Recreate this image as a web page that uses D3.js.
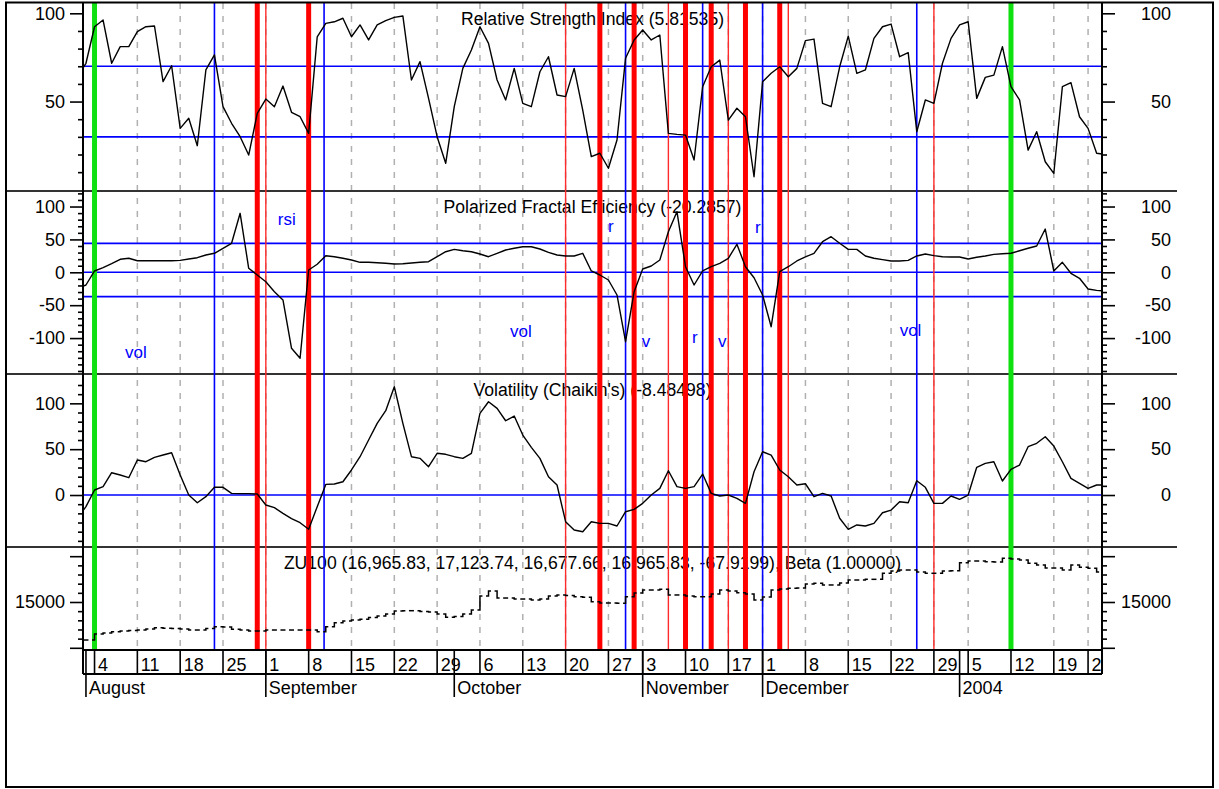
<!DOCTYPE html>
<html>
<head>
<meta charset="utf-8">
<script src="https://cdn.jsdelivr.net/npm/d3@7"></script>
<style>
  html, body { margin: 0; padding: 0; background: #fff; }
  svg { display: block; font-family: "Liberation Sans", Arial, sans-serif; }
</style>
</head>
<body>
<svg id="chart" width="1219" height="789"></svg>
<script>
// ---- Trading-day series (index 0 = Jul 31 2003, one value per trading day) ----
const rsiValues = [
  64.1, 71.7, 92.4, 96.2, 71.7, 81.1, 81.1, 89.6, 92.4, 92.8,
  61.3, 70.3, 34.8, 40.5, 25.0, 67.9, 76.4, 47.1, 37.7, 30.1,
  19.7, 43.3, 51.4, 47.1, 58.8, 43.9, 41.4, 32.0, 86.7, 94.3,
  95.2, 97.2, 86.7, 93.4, 84.9, 93.4, 95.8, 97.7, 98.5, 62.2,
  72.6, 51.8, 30.1, 15.0, 47.1, 68.8, 79.2, 92.4, 83.0, 62.2,
  50.9, 68.8, 49.0, 47.1, 66.9, 75.4, 53.7, 52.8, 68.8, 45.2,
  18.8, 20.7, 12.2, 28.2, 74.5, 84.9, 90.5, 84.9, 87.7, 32.0,
  31.4, 31.0, 16.9, 58.4, 69.7, 73.5, 39.5, 46.2, 41.4, 7.4,
  61.2, 66.0, 69.7, 64.1, 68.8, 84.5, 85.4, 49.0, 47.1, 69.7,
  87.1, 66.0, 67.9, 85.8, 92.4, 93.9, 75.4, 77.7, 32.9, 50.9,
  49.0, 71.7, 85.8, 93.4, 95.2, 51.8, 63.7, 65.0, 81.1, 58.4,
  50.9, 22.5, 32.9, 15.9, 9.3, 58.4, 60.7, 41.4, 34.8, 20.7, 20.1
];

const pfeValues = [
  -24.3, -19.3, 2.0, 7.0, 13.1, 19.8, 21.3, 17.6, 17.6, 17.6,
  17.6, 17.6, 18.2, 20.2, 22.2, 26.3, 28.9, 36.5, 44.1, 89.7,
  6.1, -4.1, -14.3, -29.5, -42.1, -115.5, -130.7, 3.5, 12.2, 25.2,
  23.7, 21.3, 18.7, 15.2, 15.2, 14.6, 13.7, 12.6, 13.1, 14.1,
  15.2, 16.1, 23.7, 31.3, 34.9, 32.8, 31.3, 27.8, 23.7, 28.9,
  33.9, 36.5, 38.9, 38.9, 35.4, 30.4, 26.3, 24.8, 24.8, 28.9,
  2.0, -4.1, -11.7, -34.5, -105.5, -29.5, 5.0, 9.6, 18.7, 61.7,
  92.1, 8.5, -19.3, 2.0, 8.5, 13.7, 21.3, 42.6, 8.5, -8.2,
  -34.5, -82.7, 0.9, 8.5, 17.2, 23.3, 28.9, 46.5, 54.1, 44.1,
  34.9, 34.9, 24.8, 21.3, 19.2, 17.2, 17.2, 18.2, 24.8, 27.8,
  25.3, 23.7, 23.3, 23.3, 20.2, 22.8, 24.8, 27.3, 28.3, 28.9,
  32.8, 36.5, 40.0, 65.8, 2.0, 15.2, -1.5, -9.1, -25.4, -27.4, -28.4
];

const volValues = [
  -25.4, -12.7, 5.5, 9.1, 24.3, 21.8, 18.9, 38.2, 36.3, 41.1,
  43.6, 46.1, 21.8, 0.0, -8.4, -1.8, 8.4, 8.4, 1.8, 1.5,
  1.5, 1.1, -10.9, -13.8, -20.0, -25.8, -30.2, -37.4, -12.7, 11.6,
  12.0, 14.5, 27.3, 41.8, 60.0, 78.2, 92.0, 118.1, 78.2, 41.8,
  40.0, 30.9, 45.5, 44.4, 41.8, 40.0, 45.5, 89.1, 101.7, 94.5,
  81.0, 86.1, 65.4, 52.0, 40.0, 20.0, 10.9, -29.1, -38.2, -40.0,
  -29.1, -30.9, -30.9, -33.8, -18.2, -15.6, -9.1, 0.0, 7.3, 26.5,
  9.1, 7.3, 9.1, 22.9, 1.8, -1.1, 0.0, -3.6, -9.1, 25.4,
  47.2, 43.6, 27.3, 20.0, 10.9, 12.3, -1.8, 1.8, -1.1, -25.4,
  -37.4, -32.7, -33.8, -30.9, -19.3, -16.4, -7.3, -8.4, 15.6, 8.4,
  -9.1, -9.1, -1.1, -4.7, 0.0, 30.2, 34.5, 36.3, 15.3, 28.0,
  32.7, 52.7, 56.4, 63.6, 53.4, 36.3, 18.2, 12.7, 7.3, 10.9, 10.9
];

const priceClose = [
  12510, 12510, 12900, 12970, 13055, 13100, 13135, 13165, 13230, 13315,
  13275, 13265, 13230, 13165, 13165, 13265, 13380, 13370, 13210, 13165,
  13100, 13100, 13165, 13165, 13165, 13165, 13165, 13165, 13055, 13380,
  13645, 13755, 13820, 13865, 13985, 14085, 14215, 14410, 14430, 14430,
  14380, 14345, 14215, 14000, 14050, 14215, 14475, 15395, 15720, 15260,
  15260, 15195, 15195, 15130, 15195, 15395, 15460, 15425, 15345, 15310,
  15020, 14935, 14935, 14915, 15345, 15590, 15785, 15785, 15830, 15460,
  15460, 15395, 15345, 15345, 15525, 15785, 15720, 15610, 15525, 15130,
  15330, 15785, 15850, 15895, 15915, 16180, 16225, 16115, 16115, 16245,
  16440, 16440, 16485, 16485, 16880, 17030, 17095, 17095, 16965, 16880,
  16880, 17030, 17050, 17575, 17685, 17685, 17640, 17620, 17860, 17815,
  17750, 17535, 17425, 17225, 17225, 17095, 17425, 17275, 17205, 16965.83
];

// ---- Calendar axis ----
const weekIdx    = [2, 7, 12, 17, 22, 27, 32, 37, 42, 47, 52, 57, 62, 66, 71, 76, 80, 85, 90, 95, 100, 104, 109, 114, 118];
const weekLabels = ["4","11","18","25","1","8","15","22","29","6","13","20","27","3","10","17","1","8","15","22","29","5","12","19","26"];
const monthIdx    = [1, 22, 44, 66, 80, 103];
const monthLabels = ["August", "September", "October", "November", "December", "2004"];

// ---- Signal markers (trading-day index) ----
const greenIdx    = [2, 109];
const thickRedIdx = [21, 27, 61, 65, 71, 74, 78, 82];
const thinRedIdx  = [22, 57, 69, 76, 83, 100];
const blueIdx     = [16, 28.8, 64, 73, 80, 98];

// ---- Threshold levels ----
const rsiLevels = [70, 30];
const pfeLevels = [44, 0, -37];
const volLevels = [0];

// ---- Signal notes in the efficiency pane (index, value) ----
const noteText = ["vol", "rsi", "r", "vol", "v", "r", "v", "r", "vol"];
const noteIdx  = [5.55, 23.4, 61.95, 50.5, 65.9, 71.75, 74.8, 79.1, 96.0];
const noteVal  = [-130, 72, 61, -98, -113, -107, -113, 60, -97];

// ---- Pane titles and axis ticks ----
const paneTitles = [
  "Relative Strength Index (5.81535)",
  "Polarized Fractal Efficiency (-20.2857)",
  "Volatility (Chaikin's) (-8.48498)",
  "ZU100 (16,965.83, 17,123.74, 16,677.66, 16,965.83, -67.9199), Beta (1.00000)"
];
const rsiMajor = [100, 50];
const rsiMinor = [10, 20, 30, 40, 60, 70, 80, 90];
const pfeMajor = [100, 50, 0, -50, -100];
const pfeMinor = [120, 110, 90, 80, 70, 60, 40, 30, 20, 10, -10, -20, -30, -40, -60, -70, -80, -90, -110, -120, -130, -140, -150];
const volMajor = [100, 50, 0];
const volMinor = [120, 110, 90, 80, 70, 60, 40, 30, 20, 10, -10, -20, -30, -40, -50];
const pxMajor  = [18000, 15000, 12000];
const pxMinor  = [17400, 16800, 16200, 15600, 14400, 13800, 13200, 12600];
const pxLabels = [15000];

// ---- Layout ----
const PL = 83, PR = 1102;
const X_AXIS_TOP = 650, DAY_ROW_BOTTOM = 674, MONTH_ROW_BOTTOM = 697;
const FONT = 17.6, AXIS_FONT = 18;

const x = d3.scaleLinear().domain([0, 120]).range([77.4, 1105.2]);

const panes = [
  { top: 3,   bottom: 191, y: d3.scaleLinear().domain([-0.68, 105.84]).range([191, 3]),
    major: rsiMajor, minor: rsiMinor, levels: rsiLevels, values: rsiValues },
  { top: 191, bottom: 374, y: d3.scaleLinear().domain([-154.6, 123.6]).range([374, 191]),
    major: pfeMajor, minor: pfeMinor, levels: pfeLevels, values: pfeValues },
  { top: 374, bottom: 547, y: d3.scaleLinear().domain([-56.7, 132]).range([547, 374]),
    major: volMajor, minor: volMinor, levels: volLevels, values: volValues },
  { top: 547, bottom: 650, y: d3.scaleLinear().domain([11856, 18602]).range([650, 547]),
    major: pxMajor, minor: pxMinor, levels: [], values: null }
];

const svg = d3.select("#chart");
svg.append("rect").attr("width", 1219).attr("height", 789).attr("fill", "#fff");

const defs = svg.append("defs");
panes.forEach((p, k) => {
  defs.append("clipPath").attr("id", "clip" + k)
    .append("rect").attr("x", PL).attr("y", p.top).attr("width", PR - PL).attr("height", p.bottom - p.top);
});
defs.append("clipPath").attr("id", "clipAll")
  .append("rect").attr("x", PL).attr("y", 3).attr("width", PR - PL).attr("height", X_AXIS_TOP - 3);
defs.append("clipPath").attr("id", "clipDays")
  .append("rect").attr("x", PL).attr("y", X_AXIS_TOP).attr("width", PR - PL).attr("height", MONTH_ROW_BOTTOM - X_AXIS_TOP);

// Weekly dashed grid
svg.append("g").attr("clip-path", "url(#clipAll)")
  .selectAll("line").data(weekIdx).join("line")
  .attr("x1", d => x(d)).attr("x2", d => x(d))
  .attr("y1", 3).attr("y2", X_AXIS_TOP)
  .attr("stroke", "#b0b0b0").attr("stroke-width", 1.5).attr("stroke-dasharray", "6,7");

// Threshold levels
panes.forEach(p => {
  svg.append("g").selectAll("line").data(p.levels).join("line")
    .attr("x1", PL).attr("x2", PR)
    .attr("y1", d => p.y(d)).attr("y2", d => p.y(d))
    .attr("stroke", "#0000ff").attr("stroke-width", 1.6);
});

// Pane titles
panes.forEach((p, k) => {
  svg.append("text")
    .attr("x", (PL + PR) / 2).attr("y", p.top + 22)
    .attr("text-anchor", "middle").attr("font-size", FONT).attr("fill", "#000")
    .text(paneTitles[k]);
});

// Notes in the efficiency pane
svg.append("g").selectAll("text").data(noteText).join("text")
  .attr("x", (d, i) => x(noteIdx[i]))
  .attr("y", (d, i) => panes[1].y(noteVal[i]))
  .attr("font-size", 17).attr("fill", "#0000ff")
  .text(d => d);

// Pane separators
svg.append("g").selectAll("line").data([191, 374, 547]).join("line")
  .attr("x1", 7).attr("x2", 1177).attr("y1", d => d).attr("y2", d => d)
  .attr("stroke", "#333").attr("stroke-width", 2);

// Signal markers
function markers(idx, color, width) {
  svg.append("g").selectAll("line").data(idx).join("line")
    .attr("x1", d => x(d)).attr("x2", d => x(d))
    .attr("y1", 3).attr("y2", X_AXIS_TOP)
    .attr("stroke", color).attr("stroke-width", width);
}
markers(thinRedIdx, "#ff2a2a", 1.4);
markers(blueIdx, "#0000ff", 1.6);
markers(thickRedIdx, "#ff0000", 5);
markers(greenIdx, "#0fe00f", 5);

// Indicator lines
panes.slice(0, 3).forEach((p, k) => {
  const line = d3.line().x((d, i) => x(i)).y(d => p.y(d));
  svg.append("path").datum(p.values)
    .attr("clip-path", "url(#clip" + k + ")")
    .attr("d", line).attr("fill", "none")
    .attr("stroke", "#000").attr("stroke-width", 1.4).attr("stroke-linejoin", "round");
});

// Price bars: open tick at the previous close, close tick to the right
const yPx = panes[3].y;
svg.append("g").attr("clip-path", "url(#clip3)")
  .selectAll("path").data(priceClose).join("path")
  .attr("d", (d, i) => {
    const open = i > 0 ? priceClose[i - 1] : d;
    const cx = x(i);
    return `M${cx - 2.5},${yPx(open)}H${cx}V${yPx(d)}H${cx + 2.5}`;
  })
  .attr("fill", "none").attr("stroke", "#000").attr("stroke-width", 1.5);

// Value axes (left and right)
function styleAxis(g) {
  g.select(".domain").remove();
  g.selectAll("line").attr("stroke", "#000").attr("stroke-width", 1.6);
  g.selectAll("text").attr("font-size", AXIS_FONT).attr("fill", "#000")
    .attr("font-family", "'Liberation Sans', Arial, sans-serif");
}
panes.forEach((p, k) => {
  const fmt = k === 3 ? (d => pxLabels.includes(d) ? String(d) : "") : (d => String(d));
  svg.append("g").attr("transform", `translate(${PL},0)`)
    .call(d3.axisLeft(p.y).tickValues(p.minor).tickSize(5).tickFormat(""))
    .call(styleAxis);
  svg.append("g").attr("transform", `translate(${PL},0)`)
    .call(d3.axisLeft(p.y).tickValues(p.major).tickSize(13).tickPadding(5).tickFormat(fmt))
    .call(styleAxis);
  svg.append("g").attr("transform", `translate(${PR},0)`)
    .call(d3.axisRight(p.y).tickValues(p.minor).tickSize(5).tickFormat(""))
    .call(styleAxis);
  svg.append("g").attr("transform", `translate(${PR},0)`)
    .call(d3.axisRight(p.y).tickValues(p.major).tickSize(13).tickFormat(fmt))
    .call(styleAxis)
    .call(g => g.selectAll("text").attr("text-anchor", "end").attr("x", 69));
});

// Axis spines
svg.append("line").attr("x1", PL).attr("x2", PL).attr("y1", 3).attr("y2", DAY_ROW_BOTTOM)
  .attr("stroke", "#000").attr("stroke-width", 2);
svg.append("line").attr("x1", PR).attr("x2", PR).attr("y1", 3).attr("y2", DAY_ROW_BOTTOM)
  .attr("stroke", "#000").attr("stroke-width", 2);

// Date axis: day row and month row
svg.append("g").selectAll("line").data([X_AXIS_TOP, DAY_ROW_BOTTOM]).join("line")
  .attr("x1", PL).attr("x2", PR).attr("y1", d => d).attr("y2", d => d)
  .attr("stroke", "#000").attr("stroke-width", 2);

const dayAxis = svg.append("g").attr("clip-path", "url(#clipDays)");
dayAxis.selectAll("line").data(weekIdx).join("line")
  .attr("x1", d => x(d)).attr("x2", d => x(d))
  .attr("y1", X_AXIS_TOP).attr("y2", DAY_ROW_BOTTOM)
  .attr("stroke", "#000").attr("stroke-width", 1.6);
dayAxis.selectAll("text").data(weekIdx).join("text")
  .attr("x", d => x(d) + 3.5).attr("y", 670.5)
  .attr("font-size", AXIS_FONT).attr("fill", "#000")
  .text((d, i) => weekLabels[i]);

const monthAxis = svg.append("g");
monthAxis.selectAll("line").data(monthIdx).join("line")
  .attr("x1", d => x(d)).attr("x2", d => x(d))
  .attr("y1", X_AXIS_TOP).attr("y2", MONTH_ROW_BOTTOM)
  .attr("stroke", "#000").attr("stroke-width", 1.6);
monthAxis.selectAll("text").data(monthIdx).join("text")
  .attr("x", d => x(d) + 3).attr("y", 693.5)
  .attr("font-size", AXIS_FONT).attr("fill", "#000")
  .text((d, i) => monthLabels[i]);

// Outer frame
svg.append("rect").attr("x", 6).attr("y", 2.5).attr("width", 1207).attr("height", 784.5)
  .attr("fill", "none").attr("stroke", "#000").attr("stroke-width", 2);
</script>
</body>
</html>
